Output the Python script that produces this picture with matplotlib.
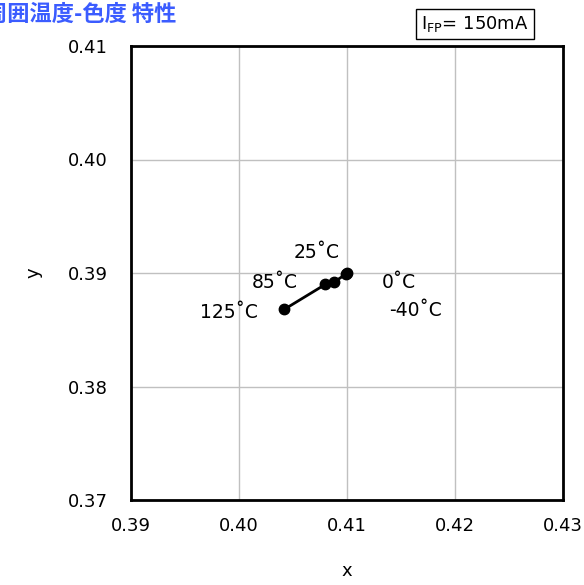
import numpy as np
import matplotlib.pyplot as plt

plt.rcParams['font.family'] = ['DejaVu Sans', 'Noto Sans CJK JP']

temps = ['-40˚C', '0˚C', '25˚C', '85˚C', '125˚C']
cx = [0.4100, 0.4099, 0.4088, 0.4080, 0.4042]
cy = [0.3900, 0.3899, 0.3892, 0.3890, 0.3868]
label_pos = [(0.4163, 0.3867), (0.4148, 0.3892), (0.4072, 0.3918), (0.4033, 0.3892), (0.3991, 0.3865)]

fig = plt.figure(figsize=(5.84, 5.85), dpi=100)
ax = fig.add_axes([131 / 584, 1 - 500 / 585, 432 / 584, 454 / 585])

ax.plot(cx, cy, color='black', linewidth=2, marker='o', markersize=7.5)
for t, (lx, ly) in zip(temps, label_pos):
    ax.text(lx, ly, t, fontsize=13.5, ha='center', va='center')

ax.set_xlim(0.39, 0.43)
ax.set_ylim(0.37, 0.41)
ax.set_xticks(np.arange(0.39, 0.4301, 0.01))
ax.set_yticks(np.arange(0.37, 0.4101, 0.01))
ax.set_xticklabels(['0.39', '0.40', '0.41', '0.42', '0.43'], fontsize=13)
ax.set_yticklabels(['0.37', '0.38', '0.39', '0.40', '0.41'], fontsize=13)
ax.tick_params(axis='x', length=0, pad=12)
ax.tick_params(axis='y', length=0, pad=17)
ax.grid(True, color='#c0c0c0', linewidth=1)
for s in ax.spines.values():
    s.set_linewidth(2)

ax.set_xlabel('x', fontsize=13, labelpad=20)
ax.set_ylabel('y', fontsize=13, labelpad=18)

fig.text(176 / 584, 1 - 14 / 585, '周囲温度-色度 特性', color='#3b5cff', fontsize=16,
         fontweight='bold', ha='right', va='center', family=['Noto Sans CJK JP'])
fig.text(475 / 584, 1 - 24 / 585, r'I$_{\mathregular{FP}}$= 150mA', fontsize=13,
         ha='center', va='center',
         bbox=dict(boxstyle='square,pad=0.3', facecolor='white', edgecolor='black', linewidth=1))

fig.savefig('out.png', dpi=100)
